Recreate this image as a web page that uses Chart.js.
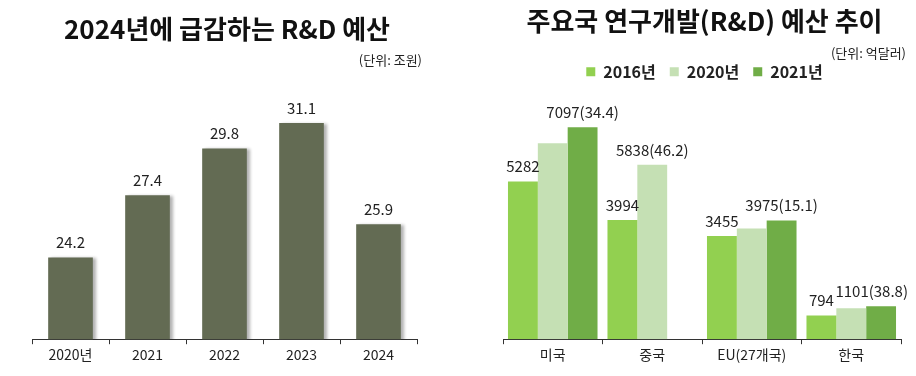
<!DOCTYPE html>
<html>
  <head>
    <meta charset="utf-8">
    <title>R&amp;D 예산</title>
    <style>
      html, body { margin: 0; padding: 0; background: #fff; }
      #wrap { position: relative; width: 916px; height: 376px; }
      .box { position: absolute; top: 0; width: 458px; height: 376px; }
      #left-box { left: 0; }
      #right-box { left: 458px; }
    </style>
  </head>
  <body>
    <div id="wrap">
      <div class="box" id="left-box"><canvas id="left"></canvas></div>
      <div class="box" id="right-box"><canvas id="right"></canvas></div>
    </div>

    <script src="https://cdn.jsdelivr.net/npm/chart.js"></script>
    <script>
      // 왼쪽: 연도별 R&D 예산 (조원)
      const years = ['2020년', '2021', '2022', '2023', '2024'];
      const budget = [24.2, 27.4, 29.8, 31.1, 25.9];

      // 오른쪽: 주요국 R&D 예산 (억달러)
      const countries = ['미국', '중국', 'EU(27개국)', '한국'];
      const rd2016 = [5282, 3994, 3455, 794];
      const rd2020 = [6560, 5838, 3710, 1040];
      const rd2021 = [7097, null, 3975, 1101];
      const text2016 = ['5282', '3994', '3455', '794'];
      const text2020 = ['', '5838(46.2)', '', ''];
      const text2021 = ['7097(34.4)', '', '3975(15.1)', '1101(38.8)'];

      const FONT = '"Noto Sans CJK KR", "Noto Sans", sans-serif';
      Chart.defaults.font.family = FONT;
      Chart.defaults.color = '#222';

      // 막대 위에 값 쓰기
      const valueLabels = {
        id: 'valueLabels',
        afterDatasetsDraw(chart, args, opts) {
          const ctx = chart.ctx;
          ctx.save();
          ctx.font = opts.font || ('15px ' + FONT);
          ctx.fillStyle = '#222';
          ctx.textAlign = 'center';
          ctx.textBaseline = 'middle';
          chart.data.datasets.forEach((ds, i) => {
            const meta = chart.getDatasetMeta(i);
            const texts = ds.texts || [];
            meta.data.forEach((bar, j) => {
              const t = texts[j];
              if (!t) return;
              const w = ctx.measureText(t).width;
              let x = bar.x;
              if (x + w / 2 > chart.width - 8) x = chart.width - 8 - w / 2;
              ctx.fillText(t, x, bar.y - 15);
            });
          });
          ctx.restore();
        }
      };

      // 왼쪽 막대의 그림자
      const barShadow = {
        id: 'barShadow',
        beforeDatasetDraw(chart) {
          const ctx = chart.ctx;
          ctx.save();
          ctx.shadowColor = 'rgba(0,0,0,0.3)';
          ctx.shadowOffsetX = 3;
          ctx.shadowOffsetY = 1;
          ctx.shadowBlur = 3;
        },
        afterDatasetDraw(chart) {
          chart.ctx.restore();
        }
      };

      const axisX = (fontSize) => ({
        grid: { drawOnChartArea: false, drawTicks: true, tickLength: 5, color: '#333', offset: true },
        border: { color: '#333', width: 1 },
        ticks: { font: { size: fontSize }, color: '#222', padding: 2 }
      });

      // 보이지 않는 y축 (오른쪽 5px 여백만 차지)
      const axisY = (min, max) => ({
        position: 'right',
        min: min,
        max: max,
        grid: { display: false },
        border: { display: false },
        ticks: { display: false },
        afterFit(scale) { scale.width = 5; }
      });

      new Chart(document.getElementById('left'), {
        type: 'bar',
        data: {
          labels: years,
          datasets: [{
            data: budget,
            texts: budget.map(v => v.toFixed(1)),
            backgroundColor: '#636b53',
            barPercentage: 0.58,
            categoryPercentage: 1.0
          }]
        },
        options: {
          responsive: true,
          maintainAspectRatio: false,
          animation: false,
          layout: { padding: { left: 32, right: 36, top: 0, bottom: 11 } },
          plugins: {
            legend: { display: false },
            tooltip: { enabled: false },
            title: {
              display: true,
              text: '2024년에 급감하는 R&D 예산',
              font: { size: 26, weight: 'bold' },
              color: '#111',
              padding: { top: 14, bottom: 0 }
            },
            subtitle: {
              display: true,
              text: '(단위: 조원)',
              align: 'end',
              font: { size: 13 },
              color: '#222',
              padding: { top: 7, bottom: 0 }
            },
            valueLabels: { font: '15px ' + FONT }
          },
          scales: {
            x: axisX(14),
            y: axisY(20, 33.94)
          }
        },
        plugins: [barShadow, valueLabels]
      });

      new Chart(document.getElementById('right'), {
        type: 'bar',
        data: {
          labels: countries,
          datasets: [
            { label: '2016년', data: rd2016, texts: text2016, backgroundColor: '#92d050' },
            { label: '2020년', data: rd2020, texts: text2020, backgroundColor: '#c5e0b4' },
            { label: '2021년', data: rd2021, texts: text2021, backgroundColor: '#70ad47' }
          ]
        },
        options: {
          responsive: true,
          maintainAspectRatio: false,
          animation: false,
          datasets: { bar: { barPercentage: 1.0, categoryPercentage: 0.9 } },
          layout: { padding: { left: 45, right: 10, top: 0, bottom: 11 } },
          plugins: {
            tooltip: { enabled: false },
            title: {
              display: true,
              text: '주요국 연구개발(R&D) 예산 추이',
              font: { size: 26, weight: 'bold' },
              color: '#111',
              padding: { top: 6, bottom: 0 }
            },
            subtitle: {
              display: true,
              text: '(단위: 억달러)',
              align: 'end',
              font: { size: 13 },
              color: '#222',
              padding: { top: 8, bottom: -11 }
            },
            legend: {
              display: true,
              position: 'top',
              labels: {
                boxWidth: 9,
                boxHeight: 9,
                padding: 14,
                color: '#222',
                font: { size: 16, weight: 'bold' }
              }
            },
            valueLabels: { font: '15px ' + FONT }
          },
          scales: {
            x: axisX(14),
            y: axisY(0, 8350)
          }
        },
        plugins: [valueLabels]
      });
    </script>
  </body>
</html>
